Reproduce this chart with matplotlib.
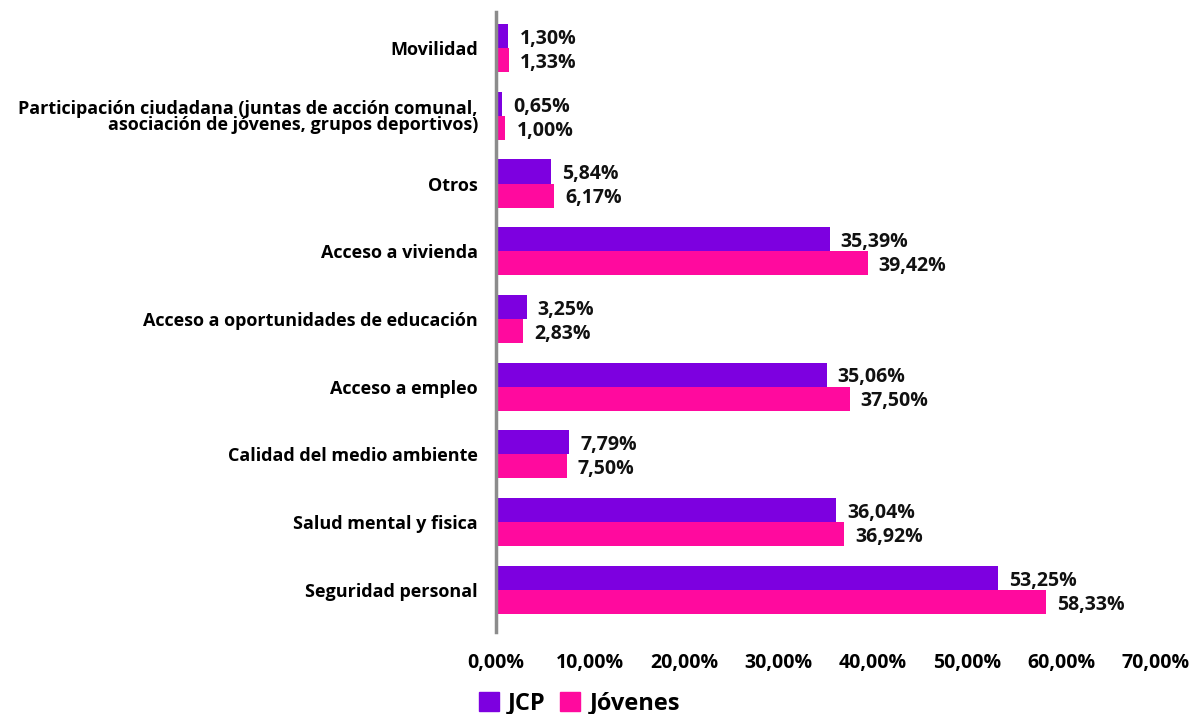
import matplotlib.pyplot as plt
import numpy as np
from matplotlib.patches import Patch
from matplotlib.ticker import FuncFormatter

plt.rcParams['font.family'] = ['Open Sans', 'DejaVu Sans']
plt.rcParams['font.weight'] = 'bold'

categories = [
    "Seguridad personal",
    "Salud mental y fisica",
    "Calidad del medio ambiente",
    "Acceso a empleo",
    "Acceso a oportunidades de educación",
    "Acceso a vivienda",
    "Otros",
    "Participación ciudadana (juntas de acción comunal,\nasociación de jóvenes, grupos deportivos)",
    "Movilidad",
]
jcp = [53.25, 36.04, 7.79, 35.06, 3.25, 35.39, 5.84, 0.65, 1.30]
jovenes = [58.33, 36.92, 7.50, 37.50, 2.83, 39.42, 6.17, 1.00, 1.33]
xticks = [0, 10, 20, 30, 40, 50, 60, 70]

c_jcp = '#7D00E0'
c_jov = '#FF0A9E'

fig = plt.figure(figsize=(11.97, 7.14), dpi=100)
ax = fig.add_axes([0.4144, 0.115, 0.5513, 0.868])

y = np.arange(len(categories))
h = 0.355
ax.barh(y + h / 2, jcp, height=h, color=c_jcp)
ax.barh(y - h / 2, jovenes, height=h, color=c_jov)

def fmt(v):
    return f"{v:.2f}".replace('.', ',') + '%'

for yi, a, b in zip(y, jcp, jovenes):
    ax.annotate(fmt(a), (a, yi + h / 2), xytext=(8, -2), textcoords='offset points',
                va='center', ha='left', fontsize=14, fontweight='bold', color='#111111')
    ax.annotate(fmt(b), (b, yi - h / 2), xytext=(8, -2), textcoords='offset points',
                va='center', ha='left', fontsize=14, fontweight='bold', color='#111111')

ax.set_xlim(0, 70)
ax.set_ylim(-0.62, 8.53)
ax.set_xticks(xticks)
ax.xaxis.set_major_formatter(FuncFormatter(lambda v, p: fmt(v)))
ax.set_yticks(y)
ax.set_yticklabels(categories, fontsize=13, fontweight='bold', linespacing=0.9)
ax.tick_params(axis='y', length=0, pad=13)
ax.tick_params(axis='x', length=0, pad=15, labelsize=14)
for lbl in ax.get_xticklabels():
    lbl.set_fontweight('bold')

for s in ['top', 'right', 'bottom']:
    ax.spines[s].set_visible(False)
ax.spines['left'].set_color('#8c8c8c')
ax.spines['left'].set_linewidth(2.5)

handles = [Patch(color=c_jcp, label='JCP'), Patch(color=c_jov, label='Jóvenes')]
fig.legend(handles=handles, loc='center', bbox_to_anchor=(0.484, 0.015), ncol=2,
           frameon=False, handlelength=0.85, handleheight=0.85,
           handletextpad=0.4, columnspacing=0.6, prop={'weight': 'bold', 'size': 17})

fig.savefig('out.png', dpi=100, facecolor='white')
